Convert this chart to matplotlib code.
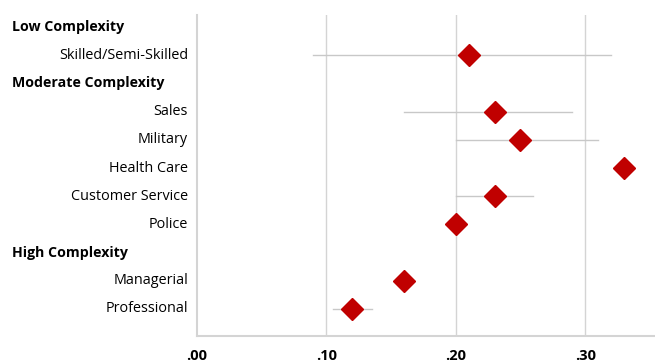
import matplotlib.pyplot as plt
import matplotlib.transforms as mtransforms

plt.rcParams['font.family'] = ['Open Sans', 'DejaVu Sans']

# rows from top to bottom; headers have no value
labels = ['Low Complexity', 'Skilled/Semi-Skilled', 'Moderate Complexity', 'Sales', 'Military',
          'Health Care', 'Customer Service', 'Police', 'High Complexity', 'Managerial', 'Professional']
is_header = [True, False, True, False, False, False, False, False, True, False, False]
estimate = [None, 0.21, None, 0.23, 0.25, 0.33, 0.23, 0.20, None, 0.16, 0.12]
ci_low = [None, 0.09, None, 0.16, 0.20, None, 0.20, None, None, None, 0.105]
ci_high = [None, 0.32, None, 0.29, 0.31, None, 0.26, None, None, None, 0.135]
xticks = [0.0, 0.1, 0.2, 0.3]
xticklabels = ['.00', '.10', '.20', '.30']

fig = plt.figure(figsize=(6.55, 3.64), dpi=100)
ax = fig.add_axes([197 / 655, 1 - 336 / 364, (655 - 197) / 655, (336 - 15) / 364])

grey = '#d4d4d4'
for x in xticks[1:]:
    ax.axvline(x, color=grey, lw=1, zorder=0)

for i in range(len(labels)):
    if ci_low[i] is not None:
        ax.plot([ci_low[i], ci_high[i]], [i, i], color='#c8c8c8', lw=1, zorder=1)
    if estimate[i] is not None:
        ax.plot(estimate[i], i, marker='D', ms=11, color='#c00000', mec='#c00000', zorder=3)

ax.set_xlim(0, 0.354)
ax.set_ylim(10.96, -0.43)
ax.set_xticks(xticks)
ax.set_xticklabels(xticklabels, fontweight='bold', fontsize=10.5)
ax.tick_params(axis='x', length=0, pad=9)
ax.set_yticks([])
for s in ['top', 'right']:
    ax.spines[s].set_visible(False)
for s in ['left', 'bottom']:
    ax.spines[s].set_color(grey)
    ax.spines[s].set_linewidth(1.5)

# headers: x in figure coords, y in data
trans = mtransforms.blended_transform_factory(fig.transFigure, ax.transData)
for i, lab in enumerate(labels):
    if is_header[i]:
        fig.text(12 / 655, i, lab, transform=trans, fontsize=10.2, fontweight='bold',
                 ha='left', va='center')
    else:
        ax.text(-0.007, i, lab, fontsize=10.4, ha='right', va='center')

fig.savefig('out.png', dpi=100)
